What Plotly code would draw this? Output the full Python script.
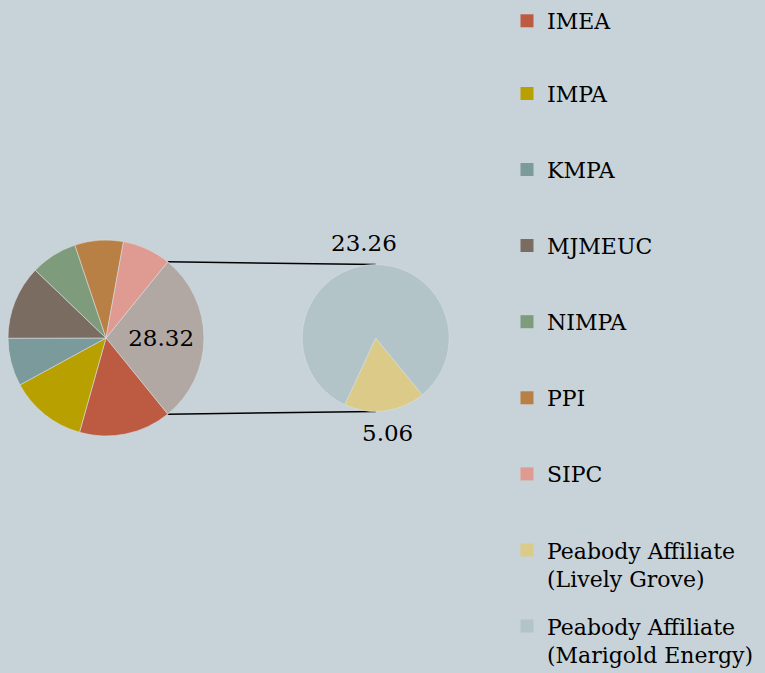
import math
import plotly.graph_objects as go

# ---- data ----
main_labels = ["IMEA", "IMPA", "KMPA", "MJMEUC", "NIMPA", "PPI", "SIPC"]
main_values = [15.2, 12.7, 7.9, 12.2, 7.7, 8.0, 7.98]
sub_labels = ["Peabody Affiliate (Lively Grove)", "Peabody Affiliate (Marigold Energy)"]
sub_values = [5.06, 23.26]
legend_names = ["IMEA", "IMPA", "KMPA", "MJMEUC", "NIMPA", "PPI", "SIPC",
                "Peabody Affiliate<br>(Lively Grove)", "Peabody Affiliate<br>(Marigold Energy)"]

# ---- style ----
main_colors = ["#BC5A42", "#B7A000", "#7B9A9C", "#7B6C62", "#7E9C7B", "#B98045", "#DF9A91"]
other_color = "#B1A8A4"
sub_colors = ["#DCCB88", "#B2C4C8"]
bg = "#C8D3D9"
W, H = 765, 673
FONT = "DejaVu Serif"

other_value = round(sum(sub_values), 2)
total = other_value + sum(main_values)

# pie geometry in pixels
c1, r1 = (106.0, 338.0), 98.0
c2, r2 = (375.7, 338.0), 73.5
rot2 = 140.6


def domain(c, r):
    return dict(x=[(c[0] - r) / W, (c[0] + r) / W],
                y=[1 - (c[1] + r) / H, 1 - (c[1] - r) / H])


def px2paper(p):
    return p[0] / W, 1 - p[1] / H


rot1 = 90 - other_value / total * 360 / 2

fig = go.Figure()
fig.add_trace(go.Pie(
    labels=["Other"] + main_labels,
    values=[other_value] + main_values,
    text=[f"{other_value:.2f}"] + [""] * len(main_labels),
    textinfo="text", textposition="inside", insidetextorientation="horizontal",
    insidetextfont=dict(family=FONT, size=23, color="black"),
    marker=dict(colors=[other_color] + main_colors, line=dict(color="#D8DDDF", width=0.6)),
    sort=False, direction="clockwise", rotation=rot1,
    domain=domain(c1, r1), showlegend=False, hoverinfo="label+value",
))
fig.add_trace(go.Pie(
    labels=sub_labels, values=sub_values,
    textinfo="none",
    marker=dict(colors=sub_colors, line=dict(color="#D8DDDF", width=0.6)),
    sort=False, direction="clockwise", rotation=rot2,
    domain=domain(c2, r2), showlegend=False, hoverinfo="label+value",
))

# outside-end data labels for the sub pie, placed along each slice's mid angle
sub_total = sum(sub_values)
start = rot2
for v in sub_values:
    span = v / sub_total * 360
    mid = math.radians(start + span / 2)
    start += span
    rr = r2 + 22
    p = (c2[0] + rr * math.sin(mid), c2[1] - rr * math.cos(mid))
    x, y = px2paper(p)
    fig.add_annotation(x=x, y=y, xref="paper", yref="paper", text=f"{v:.2f}",
                       showarrow=False, xanchor="center", yanchor="middle",
                       font=dict(family=FONT, size=23, color="black"))

# legend entries: one legend per entry, at a fixed pitch
all_colors = main_colors + sub_colors
legend_layout = {}
pitch, first_top = 76.1, -3.5
for i, (name, col) in enumerate(zip(legend_names, all_colors)):
    key = "legend" if i == 0 else f"legend{i + 1}"
    fig.add_trace(go.Scatter(x=[None], y=[None], mode="markers", name=name,
                             legend=key,
                             marker=dict(symbol="square", size=13, color=col)))
    legend_layout[key] = dict(x=507 / W, xanchor="left", xref="container",
                              y=min(1.0, 1 - (first_top + pitch * i) / H), yanchor="top",
                              yref="container",
                              font=dict(family=FONT, size=22, color="black"),
                              valign="top", bgcolor="rgba(0,0,0,0)")

# connector lines from the "other" slice edges to the top/bottom of the sub pie
a_top = math.radians(rot1)
a_bot = math.radians(rot1 + other_value / total * 360)
p_top = (c1[0] + r1 * math.sin(a_top), c1[1] - r1 * math.cos(a_top))
p_bot = (c1[0] + r1 * math.sin(a_bot), c1[1] - r1 * math.cos(a_bot))
for p, q in [(p_top, (c2[0], c2[1] - r2)), (p_bot, (c2[0], c2[1] + r2))]:
    x0, y0 = px2paper(p)
    x1, y1 = px2paper(q)
    fig.add_shape(type="line", xref="paper", yref="paper",
                  x0=x0, y0=y0, x1=x1, y1=y1,
                  line=dict(color="black", width=1.5), layer="below")

fig.update_layout(
    width=W, height=H, margin=dict(l=0, r=0, t=0, b=0, autoexpand=False),
    paper_bgcolor=bg, plot_bgcolor=bg,
    xaxis=dict(visible=False), yaxis=dict(visible=False),
    showlegend=True,
    **legend_layout,
)

fig.write_html("out.html", config={"displayModeBar": False},
               post_script="document.body.style.margin='0';")
